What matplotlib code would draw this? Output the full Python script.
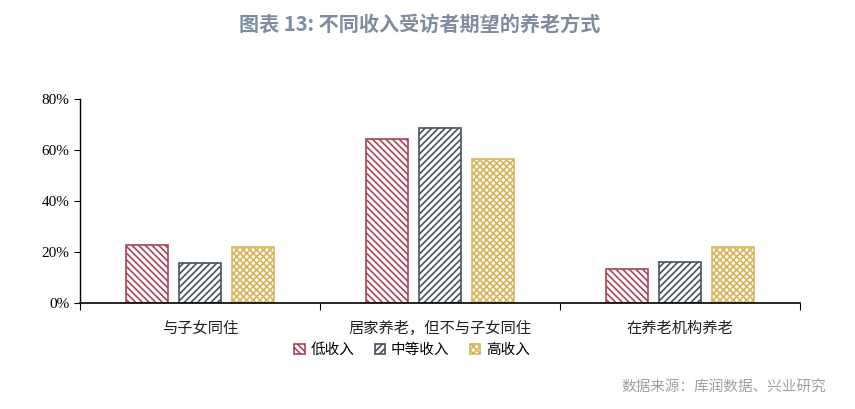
import matplotlib
matplotlib.use('Agg')
import matplotlib.pyplot as plt
import numpy as np

plt.rcParams['font.family'] = ['Noto Sans CJK SC', 'DejaVu Sans']
plt.rcParams['hatch.linewidth'] = 1.2

categories = ['与子女同住', '居家养老，但不与子女同住', '在养老机构养老']
series_names = ['低收入', '中等收入', '高收入']
low_income = [22.7, 64.3, 13.3]
mid_income = [15.7, 68.6, 16.0]
high_income = [22.0, 56.5, 22.0]
y_ticks = [0, 20, 40, 60, 80]

colors = ['#A94456', '#49505E', '#D8B55A']
hatches = ['\\' * 5, '/' * 5, 'x' * 5]

fig = plt.figure(figsize=(8.55, 4.09), dpi=100)
ax = fig.add_axes([80 / 855, 1 - 303 / 409, 720 / 855, 204 / 409])

x = np.arange(len(categories))
width = 0.175
offsets = [-0.22, 0, 0.22]
for vals, name, col, h, off in zip([low_income, mid_income, high_income],
                                   series_names, colors, hatches, offsets):
    ax.bar(x + off, vals, width, label=name, color='white', edgecolor=col,
           hatch=h, linewidth=1.2)

ax.set_xlim(-0.5, len(categories) - 0.5)
ax.set_ylim(0, 80)
ax.set_yticks(y_ticks)
ax.set_yticklabels([f'{v}%' for v in y_ticks], family='Liberation Serif', fontsize=11)
ax.set_xticks(np.arange(len(categories) + 1) - 0.5, minor=False)
ax.set_xticklabels([])
ax.tick_params(axis='x', length=5, direction='out')
ax.tick_params(axis='y', length=4, direction='out')
for i, c in enumerate(categories):
    ax.text(i, -6.5, c, ha='center', va='top', fontsize=11, color='#222222')

for s in ['top', 'right']:
    ax.spines[s].set_visible(False)
ax.spines['left'].set_linewidth(1.0)
ax.spines['bottom'].set_linewidth(1.2)

leg = fig.legend(loc='center', bbox_to_anchor=(412 / 855, 1 - 350 / 409), ncol=3,
                 frameon=False, fontsize=10.5, handlelength=0.7, handleheight=0.7,
                 handletextpad=0.4, columnspacing=1.4)

fig.text(420 / 855, 1 - 24 / 409, '图表 13: 不同收入受访者期望的养老方式', ha='center',
         va='center', fontsize=14.5, fontweight='bold', color='#7F8DA3')
fig.text(826 / 855, 1 - 387 / 409, '数据来源：库润数据、兴业研究', ha='right',
         va='center', fontsize=10.5, color='#A0A0A0')

fig.savefig('out.png', dpi=100)
